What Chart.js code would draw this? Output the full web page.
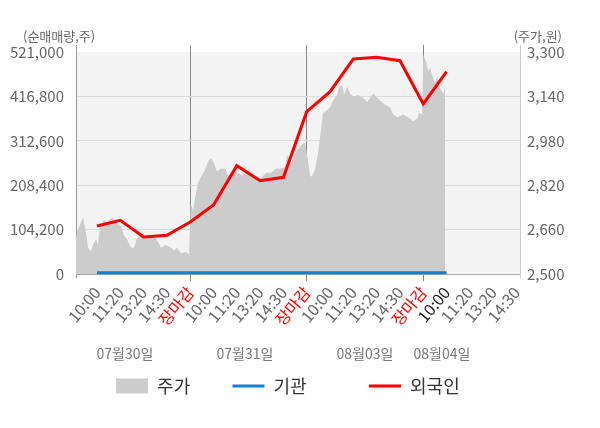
<!DOCTYPE html>
<html>
<head>
<meta charset="utf-8">
<script src="https://cdn.jsdelivr.net/npm/chart.js@4.4.1/dist/chart.umd.min.js"></script>
<style>
  html, body { margin: 0; padding: 0; background: #fff; }
</style>
</head>
<body>
<canvas id="chart" width="600" height="428"></canvas>
<script>
// x axis: one step per time label, 장마감 closes each day
const timeLabels = ['10:00', '11:20', '13:20', '14:30', '장마감',
  '10:00', '11:20', '13:20', '14:30', '장마감',
  '10:00', '11:20', '13:20', '14:30', '장마감',
  '10:00', '11:20', '13:20', '14:30'];
const dateLabels = ['07월30일', '07월31일', '08월03일', '08월04일'];
const dateAt = [2.2, 7.35, 12.5, 15.8];

const qtyTicks = [0, 104200, 208400, 312600, 416800, 521000];
const priceTicks = [2500, 2660, 2820, 2980, 3140, 3300];

// 주가 (intraday), time in axis steps
const priceTime = [
  0.10, 0.19, 0.31, 0.40, 0.53, 0.62, 0.74, 0.83, 0.96, 1.04, 1.13, 1.30, 1.43, 1.65, 1.82, 2.03, 2.16,
  2.29, 2.46, 2.59, 2.72, 2.89, 3.10, 3.32, 3.53, 3.75, 3.96, 4.18, 4.31, 4.43, 4.61, 4.82, 4.95,
  5.02, 5.12, 5.21, 5.34, 5.46, 5.64, 5.77, 5.89, 6.02, 6.15, 6.32, 6.49, 6.62, 6.75, 6.92, 7.05,
  7.18, 7.40, 7.61, 7.83, 8.04, 8.25, 8.47, 8.68, 8.90, 9.07, 9.16, 9.33, 9.50, 9.71, 9.93,
  10.06, 10.14, 10.23, 10.36, 10.49, 10.62, 10.70, 10.87, 11.00, 11.13, 11.30, 11.39, 11.52, 11.60,
  11.73, 11.86, 11.99, 12.21, 12.42, 12.59, 12.72, 12.85, 12.98, 13.15, 13.36, 13.58, 13.71, 13.92,
  14.13, 14.35, 14.56, 14.74, 14.82, 14.95,
  15.00, 15.12, 15.21, 15.29, 15.42, 15.51, 15.59, 15.72, 15.85, 15.89, 15.94
];
const priceValue = [
  2630, 2660, 2685, 2705, 2650, 2595, 2580, 2605, 2625, 2605, 2670, 2695, 2685, 2705, 2685, 2675, 2640,
  2625, 2595, 2595, 2630, 2640, 2630, 2640, 2630, 2595, 2605, 2595, 2585, 2595, 2575, 2580, 2570,
  2750, 2730, 2775, 2830, 2850, 2875, 2905, 2920, 2900, 2870, 2880, 2880, 2855, 2865, 2875, 2865,
  2855, 2865, 2855, 2850, 2845, 2865, 2865, 2880, 2880, 2885, 2930, 2900, 2935, 2960, 2975,
  2905, 2855, 2850, 2880, 2940, 3025, 3080, 3090, 3100, 3125, 3145, 3175, 3180, 3145,
  3175, 3150, 3140, 3145, 3135, 3120, 3135, 3150, 3140, 3125, 3110, 3100, 3075, 3065,
  3075, 3065, 3050, 3060, 3080, 3075,
  3290, 3265, 3230, 3245, 3205, 3190, 3210, 3170, 3150, 3165, 3160
];

// 순매매량 누적 (주), one value per time label from 10:00 on 07/30
const flowTime = [1, 2, 3, 4, 5, 6, 7, 8, 9, 10, 11, 12, 13, 14, 15, 16];
const institution = [3000, 3000, 3000, 3000, 3000, 3000, 3000, 3000, 3000, 3000, 3000, 3000, 3000, 3000, 3000, 3000];
const foreigner = [112600, 126000, 86800, 90800, 122000, 161900, 254200, 219000, 226900,
  380900, 427800, 504600, 508500, 500600, 399000, 474800];

const FONT = '"Noto Sans CJK KR", "Noto Sans", sans-serif';
Chart.defaults.font.family = FONT;

const pairs = (xs, ys) => xs.map((x, i) => ({ x: x, y: ys[i] }));

// light plot panel behind the series
const plotPanel = {
  id: 'plotPanel',
  beforeDraw(chart) {
    const { ctx, chartArea, scales } = chart;
    const top = scales.yQty.getPixelForValue(qtyTicks[qtyTicks.length - 1]);
    const bottom = scales.yQty.getPixelForValue(0);
    ctx.save();
    ctx.fillStyle = '#f4f4f4';
    ctx.fillRect(chartArea.left, top, chartArea.right - chartArea.left, bottom - top);
    ctx.restore();
  }
};

// unit captions above both axes
const unitCaptions = {
  id: 'unitCaptions',
  afterDraw(chart) {
    const { ctx, chartArea } = chart;
    ctx.save();
    ctx.font = '13px ' + FONT;
    ctx.fillStyle = '#666';
    ctx.textBaseline = 'middle';
    ctx.textAlign = 'left';
    ctx.fillText('(순매매량,주)', chartArea.left - 53, chartArea.top - 9);
    ctx.textAlign = 'right';
    ctx.fillText('(주가,원)', chartArea.right + 42, chartArea.top - 9);
    ctx.restore();
  }
};

const legendSpacer = ['        ', '             ', '      '];

new Chart(document.getElementById('chart'), {
  type: 'line',
  data: {
    datasets: [
      {
        label: '주가',
        data: pairs(priceTime, priceValue),
        yAxisID: 'yPrice',
        backgroundColor: '#cccccc',
        borderWidth: 0,
        pointRadius: 0,
        fill: { value: 2500 },
        order: 3
      },
      {
        label: '기관',
        data: pairs(flowTime, institution),
        yAxisID: 'yQty',
        borderColor: '#1580cf',
        borderWidth: 3,
        pointRadius: 0,
        fill: false,
        order: 2
      },
      {
        label: '외국인',
        data: pairs(flowTime, foreigner),
        yAxisID: 'yQty',
        borderColor: '#ff0000',
        borderWidth: 3,
        pointRadius: 0,
        fill: false,
        order: 1
      }
    ]
  },
  options: {
    responsive: false,
    animation: false,
    layout: { padding: { top: 45, left: 0, right: 0, bottom: 23 } },
    plugins: {
      tooltip: { enabled: false },
      legend: {
        position: 'bottom',
        labels: {
          usePointStyle: true,
          pointStyleWidth: 32,
          boxHeight: 15,
          padding: 10,
          color: '#333',
          font: { size: 18 },
          generateLabels: (chart) => chart.data.datasets.map((ds, i) => {
            const col = ds.fill ? ds.backgroundColor : ds.borderColor;
            return {
              text: ds.label + legendSpacer[i],
              fillStyle: col,
              strokeStyle: col,
              lineWidth: ds.fill ? 0 : 3,
              pointStyle: ds.fill ? 'rect' : 'line',
              fontColor: '#333',
              hidden: false,
              datasetIndex: i
            };
          })
        }
      }
    },
    scales: {
      x: {
        type: 'linear',
        position: 'bottom',
        min: 0.1,
        max: 19.15,
        afterBuildTicks: (s) => { s.ticks = timeLabels.map((_, i) => ({ value: i + 1 })); },
        afterFit: (s) => { s.height = 62; },
        ticks: {
          autoSkip: false,
          minRotation: 50,
          maxRotation: 50,
          padding: 2,
          font: { size: 16 },
          color: (c) => c.tick.value % 5 === 0 ? '#ff0000' : (c.tick.value === 16 ? '#222' : '#666'),
          callback: (v, i) => timeLabels[i]
        },
        grid: {
          color: (c) => (c.tick && c.tick.value % 5 === 0) ? '#888' : 'transparent',
          tickLength: 4
        },
        border: { display: false }
      },
      x2: {
        type: 'linear',
        position: 'bottom',
        weight: 1,
        min: 0.1,
        max: 19.15,
        afterBuildTicks: (s) => { s.ticks = dateAt.map((v) => ({ value: v })); },
        afterFit: (s) => { s.height = 28; },
        ticks: {
          autoSkip: false,
          minRotation: 0,
          maxRotation: 0,
          padding: 6,
          font: { size: 14 },
          color: '#777',
          callback: (v, i) => dateLabels[i]
        },
        grid: { display: false, drawTicks: false },
        border: { display: false }
      },
      yQty: {
        position: 'left',
        min: -7040,
        max: 537430,
        afterBuildTicks: (s) => { s.ticks = qtyTicks.map((v) => ({ value: v })); },
        afterFit: (s) => { s.width = 76; },
        ticks: {
          padding: 12,
          font: { size: 15 },
          color: '#666',
          callback: (v) => v.toLocaleString('en-US')
        },
        grid: {
          drawTicks: false,
          color: (c) => c.tick.value === 0 ? '#aaa' : (c.tick.value === 521000 ? 'transparent' : '#dcdcdc')
        },
        border: { color: '#999' }
      },
      yPrice: {
        position: 'right',
        min: 2489.2,
        max: 3325.2,
        afterBuildTicks: (s) => { s.ticks = priceTicks.map((v) => ({ value: v })); },
        afterFit: (s) => { s.width = 80; },
        ticks: {
          padding: 7,
          font: { size: 15 },
          color: '#666',
          callback: (v) => v.toLocaleString('en-US')
        },
        grid: { drawOnChartArea: false, drawTicks: false },
        border: { color: '#ccc' }
      }
    }
  },
  plugins: [plotPanel, unitCaptions]
});
</script>
</body>
</html>
